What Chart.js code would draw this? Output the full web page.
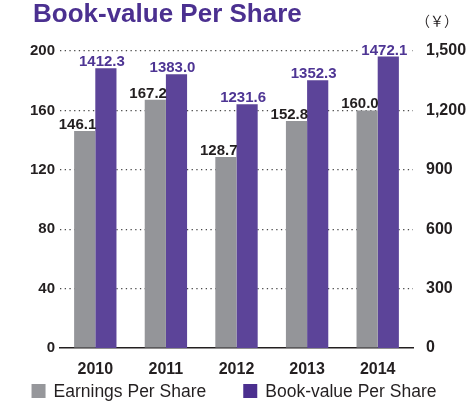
<!DOCTYPE html>
<html><head><meta charset="utf-8">
<script src="https://cdn.jsdelivr.net/npm/chart.js@4/dist/chart.umd.min.js"></script>
<style>html,body{margin:0;padding:0;background:#fff}#wrap{width:467px;height:404px;position:relative}</style>
</head><body><div id="wrap"><canvas id="c" width="467" height="404"></canvas></div>
<script>
const years = ['2010','2011','2012','2013','2014'];
const eps = [146.1, 167.2, 128.7, 152.8, 160.0];
const bps = [1412.3, 1383.0, 1231.6, 1352.3, 1472.1];
const leftTicks = [0, 40, 80, 120, 160, 200];
const rightTicks = [0, 300, 600, 900, 1200, 1500];
const seriesNames = ['Earnings Per Share', 'Book-value Per Share'];
const titleText = 'Book-value Per Share';
const unitText = '（￥）';

const DARK = '#231f20', GRAY = '#949599', PURPLE = '#5c4499', PTEXT = '#4e3594';
const LEGEND_COLORS = ['#96979b', '#4b2f8f'];
const FONT = '"Liberation Sans", Arial, Helvetica, sans-serif';

function eachLabel(chart, fn) {
  const ctx = chart.ctx;
  ctx.font = 'bold 15px ' + FONT;
  chart.data.datasets.forEach((ds, di) => {
    const meta = chart.getDatasetMeta(di);
    meta.data.forEach((el, i) => {
      const txt = ds.data[i].toFixed(1);
      const w = ctx.measureText(txt).width;
      let x, left, align;
      if (di === 0) { x = el.x + el.width / 2 + 1; align = 'right'; left = x - w; }
      else { x = el.x - 4; align = 'center'; left = x - w / 2; }
      fn(ctx, di, txt, x, el.y - 2, left, w, align);
    });
  });
}
const labelPlugin = {
  id: 'vals',
  beforeDatasetsDraw(chart) {
    chart.ctx.save();
    eachLabel(chart, (ctx, di, txt, x, y, left, w) => {
      ctx.fillStyle = '#ffffff';
      ctx.fillRect(left - 2, y - 12, w + 4, 13);
    });
    chart.ctx.restore();
  },
  afterDatasetsDraw(chart) {
    chart.ctx.save();
    eachLabel(chart, (ctx, di, txt, x, y, left, w, align) => {
      ctx.textBaseline = 'alphabetic';
      ctx.textAlign = align;
      ctx.fillStyle = di === 0 ? DARK : PTEXT;
      ctx.fillText(txt, x, y);
    });
    chart.ctx.restore();
  }
};
const decorPlugin = {
  id: 'decor',
  afterDraw(chart) {
    const ctx = chart.ctx;
    ctx.save();
    ctx.fillStyle = '#4b3090';
    ctx.font = 'bold 26px ' + FONT;
    ctx.textBaseline = 'alphabetic'; ctx.textAlign = 'left';
    ctx.fillText(titleText, 33, 22);
    ctx.fillStyle = DARK;
    ctx.font = '14px "Noto Sans CJK JP", sans-serif';
    ctx.fillText(unitText, 416, 26);
    // legend
    ctx.font = '17.5px ' + FONT;
    const box = 14, gap = 8, spacing = 37;
    const widths = chart.data.datasets.map(d => ctx.measureText(d.label).width);
    const total = widths.reduce((a, w) => a + box + gap + w, 0) + spacing * (widths.length - 1);
    let x = 234 - total / 2;
    chart.data.datasets.forEach((d, i) => {
      ctx.fillStyle = LEGEND_COLORS[i];
      ctx.fillRect(x, 384, box, box);
      ctx.fillStyle = DARK;
      ctx.fillText(d.label, x + box + gap, 397);
      x += box + gap + widths[i] + spacing;
    });
    ctx.restore();
  }
};

new Chart(document.getElementById('c'), {
  type: 'bar',
  data: {
    labels: years,
    datasets: [
      { label: seriesNames[0], data: eps, backgroundColor: GRAY, yAxisID: 'y', borderWidth: 0 },
      { label: seriesNames[1], data: bps, backgroundColor: PURPLE, yAxisID: 'y1', borderWidth: 0 }
    ]
  },
  options: {
    responsive: false, animation: false,
    layout: { padding: { top: 51, left: 0, right: 0, bottom: 30 } },
    datasets: { bar: { barPercentage: 1, categoryPercentage: 0.6 } },
    plugins: { tooltip: { enabled: false }, legend: { display: false } },
    scales: {
      x: {
        grid: { display: false },
        border: { display: true, color: DARK, width: 1.5 },
        ticks: { color: DARK, font: { family: FONT, size: 16, weight: 'bold' }, padding: 4 },
        afterFit(s) { s.height = 26; }
      },
      y: {
        position: 'left', min: 0, max: 200,
        afterBuildTicks(s) { s.ticks = leftTicks.map(v => ({ value: v })); },
        grid: { drawTicks: false, color: c => c.tick && c.tick.value === 0 ? 'rgba(0,0,0,0)' : '#4a4a4a', lineWidth: 1.2 },
        border: { display: false, dash: [1.3, 3.4] },
        ticks: { color: DARK, font: { family: FONT, size: 15, weight: 'bold' }, padding: 5 },
        afterFit(s) { s.width = 60; }
      },
      y1: {
        position: 'right', min: 0, max: 1500,
        afterBuildTicks(s) { s.ticks = rightTicks.map(v => ({ value: v })); },
        grid: { display: false },
        border: { display: false },
        ticks: { color: DARK, font: { family: FONT, size: 16, weight: 'bold' }, padding: 5,
                 callback: v => v.toLocaleString('en-US') },
        afterFit(s) { s.width = 54; }
      }
    }
  },
  plugins: [labelPlugin, decorPlugin]
});
</script></body></html>
